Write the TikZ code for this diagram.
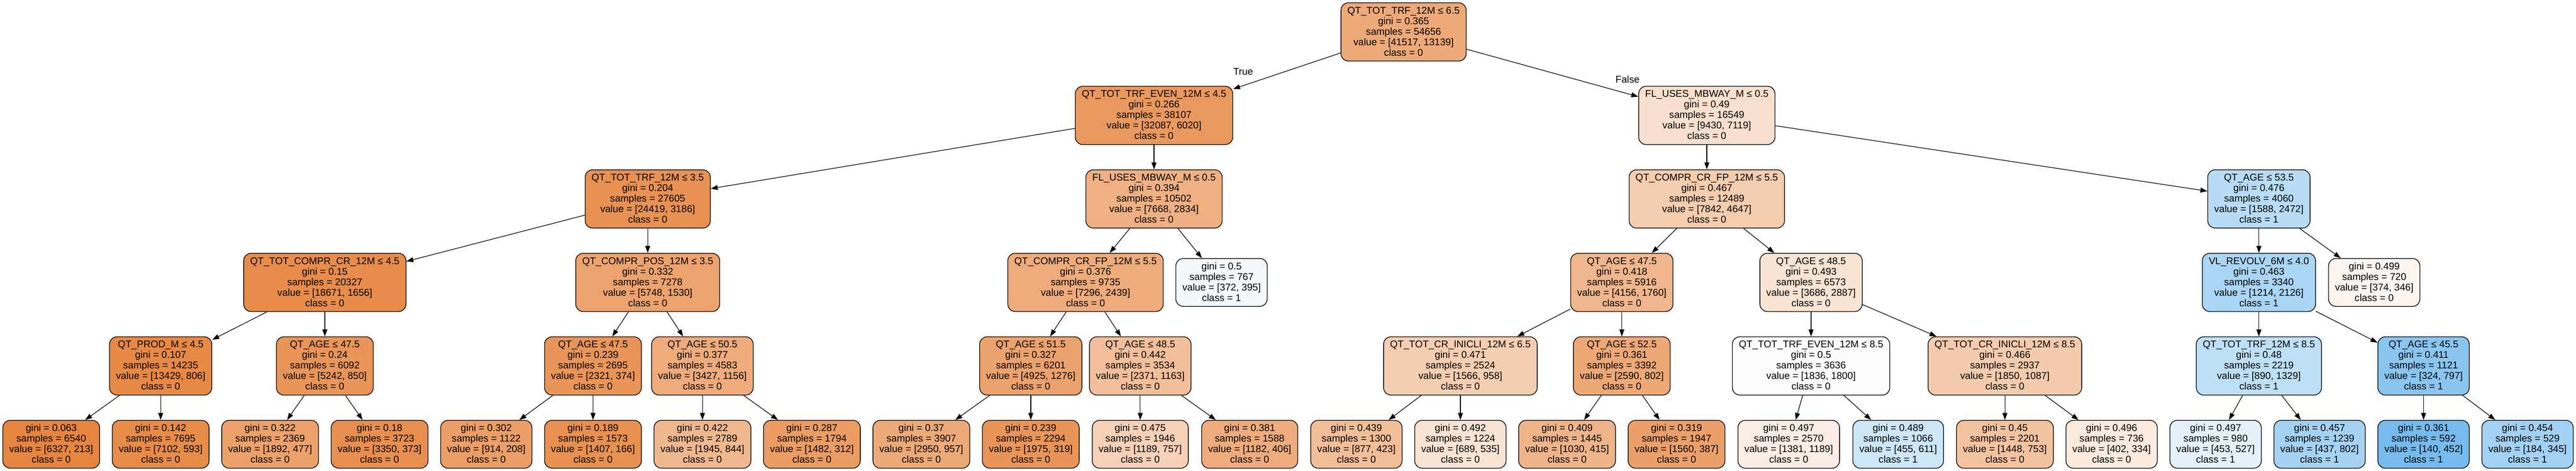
\documentclass[tikz,border=0pt]{standalone}
\usepackage{fontspec}
\setmainfont{Liberation Sans}
\usetikzlibrary{arrows.meta}
\definecolor{cz}{RGB}{229,129,57}
\definecolor{co}{RGB}{57,157,229}
\newcommand\splitlab[5]{#1\\gini = #2\\samples = #3\\value = [#4]\\class = #5\rule[-1.5pt]{0pt}{1.5pt}}
\newcommand\leaflab[4]{gini = #1\\samples = #2\\value = [#3]\\class = #4\rule[-1.5pt]{0pt}{1.5pt}}
\tikzset{
  tn/.style={draw=black, line width=1pt, rounded corners=10.5pt, font=\fontsize{14pt}{15pt}\selectfont,
    align=center, inner xsep=9.22pt, inner ysep=0pt, minimum height=83pt},
  lfn/.style={tn, minimum height=68.25pt},
  lab/.style={font=\fontsize{14pt}{15pt}\selectfont, inner sep=0pt},
  ed/.style={draw=black, line width=0.9pt, -{Triangle[length=10pt,width=7pt]}}
}
\begin{document}
\begin{tikzpicture}
\fill[white] (0,0) rectangle (3669.75pt,-671.25pt);
\useasboundingbox (0,0) rectangle (3669.75pt,-671.25pt);
% rank 0
\node[tn, fill=cz!68.4!white] (n0) at (1999.5pt,-45.5pt) {\splitlab{QT\_TOT\_TRF\_12M ≤ 6.5}{0.365}{54656}{41517, 13139}{0}};
% rank 1
\node[tn, fill=cz!81.2!white] (n1) at (1644pt,-164.5pt) {\splitlab{QT\_TOT\_TRF\_EVEN\_12M ≤ 4.5}{0.266}{38107}{32087, 6020}{0}};
\node[tn, fill=cz!24.5!white] (n2) at (2431.5pt,-164.5pt) {\splitlab{FL\_USES\_MBWAY\_M ≤ 0.5}{0.49}{16549}{9430, 7119}{0}};
% rank 2
\node[tn, fill=cz!87.0!white] (n3) at (922.73pt,-283.5pt) {\splitlab{QT\_TOT\_TRF\_12M ≤ 3.5}{0.204}{27605}{24419, 3186}{0}};
\node[tn, fill=cz!63.0!white] (n4) at (1644pt,-283.5pt) {\splitlab{FL\_USES\_MBWAY\_M ≤ 0.5}{0.394}{10502}{7668, 2834}{0}};
\node[tn, fill=cz!40.7!white] (n5) at (2431.5pt,-283.5pt) {\splitlab{QT\_COMPR\_CR\_FP\_12M ≤ 5.5}{0.467}{12489}{7842, 4647}{0}};
\node[tn, fill=co!35.8!white] (n6) at (3218pt,-283.5pt) {\splitlab{QT\_AGE ≤ 53.5}{0.476}{4060}{1588, 2472}{1}};
% rank 3
\node[tn, fill=cz!91.1!white] (n7) at (462.76pt,-402.5pt) {\splitlab{QT\_TOT\_COMPR\_CR\_12M ≤ 4.5}{0.15}{20327}{18671, 1656}{0}};
\node[tn, fill=cz!73.4!white] (n8) at (922.73pt,-402.5pt) {\splitlab{QT\_COMPR\_POS\_12M ≤ 3.5}{0.332}{7278}{5748, 1530}{0}};
\node[tn, fill=cz!66.6!white] (n9) at (1546.41pt,-402.5pt) {\splitlab{QT\_COMPR\_CR\_FP\_12M ≤ 5.5}{0.376}{9735}{7296, 2439}{0}};
\node[lfn, fill=co!5.8!white] (n10) at (1740.2pt,-402.5pt) {\leaflab{0.5}{767}{372, 395}{1}};
\node[tn, fill=cz!57.7!white] (n11) at (2310.43pt,-402.5pt) {\splitlab{QT\_AGE ≤ 47.5}{0.418}{5916}{4156, 1760}{0}};
\node[tn, fill=cz!21.7!white] (n12) at (2580pt,-402.5pt) {\splitlab{QT\_AGE ≤ 48.5}{0.493}{6573}{3686, 2887}{0}};
\node[tn, fill=co!42.9!white] (n13) at (3218pt,-402.5pt) {\splitlab{VL\_REVOLV\_6M ≤ 4.0}{0.463}{3340}{1214, 2126}{1}};
\node[lfn, fill=cz!7.5!white] (n14) at (3382.3pt,-402.5pt) {\leaflab{0.499}{720}{374, 346}{0}};
% rank 4
\node[tn, fill=cz!94.0!white] (n15) at (228.88pt,-521.5pt) {\splitlab{QT\_PROD\_M ≤ 4.5}{0.107}{14235}{13429, 806}{0}};
\node[tn, fill=cz!83.8!white] (n16) at (462.76pt,-521.5pt) {\splitlab{QT\_AGE ≤ 47.5}{0.24}{6092}{5242, 850}{0}};
\node[tn, fill=cz!83.9!white] (n17) at (844.77pt,-521.5pt) {\splitlab{QT\_AGE ≤ 47.5}{0.239}{2695}{2321, 374}{0}};
\node[tn, fill=cz!66.3!white] (n18) at (1000.69pt,-521.5pt) {\splitlab{QT\_AGE ≤ 50.5}{0.377}{4583}{3427, 1156}{0}};
\node[tn, fill=cz!74.1!white] (n19) at (1468.45pt,-521.5pt) {\splitlab{QT\_AGE ≤ 51.5}{0.327}{6201}{4925, 1276}{0}};
\node[tn, fill=cz!50.9!white] (n20) at (1624.37pt,-521.5pt) {\splitlab{QT\_AGE ≤ 48.5}{0.442}{3534}{2371, 1163}{0}};
\node[tn, fill=cz!38.8!white] (n21) at (2080.45pt,-521.5pt) {\splitlab{QT\_TOT\_CR\_INICLI\_12M ≤ 6.5}{0.471}{2524}{1566, 958}{0}};
\node[tn, fill=cz!69.0!white] (n22) at (2310.43pt,-521.5pt) {\splitlab{QT\_AGE ≤ 52.5}{0.361}{3392}{2590, 802}{0}};
\node[tn, fill=cz!2.0!white] (n23) at (2580pt,-521.5pt) {\splitlab{QT\_TOT\_TRF\_EVEN\_12M ≤ 8.5}{0.5}{3636}{1836, 1800}{0}};
\node[tn, fill=cz!41.2!white] (n24) at (2856.14pt,-521.5pt) {\splitlab{QT\_TOT\_CR\_INICLI\_12M ≤ 8.5}{0.466}{2937}{1850, 1087}{0}};
\node[tn, fill=co!33.0!white] (n25) at (3218pt,-521.5pt) {\splitlab{QT\_TOT\_TRF\_12M ≤ 8.5}{0.48}{2219}{890, 1329}{1}};
\node[tn, fill=co!59.3!white] (n26) at (3452.56pt,-521.5pt) {\splitlab{QT\_AGE ≤ 45.5}{0.411}{1121}{324, 797}{1}};
% rank 5 leaves
\node[lfn, fill=cz!96.6!white] (L1) at (72.96pt,-633.125pt) {\leaflab{0.063}{6540}{6327, 213}{0}};
\node[lfn, fill=cz!91.7!white] (L2) at (228.88pt,-633.125pt) {\leaflab{0.142}{7695}{7102, 593}{0}};
\node[lfn, fill=cz!74.8!white] (L3) at (384.80pt,-633.125pt) {\leaflab{0.322}{2369}{1892, 477}{0}};
\node[lfn, fill=cz!88.9!white] (L4) at (540.72pt,-633.125pt) {\leaflab{0.18}{3723}{3350, 373}{0}};
\node[lfn, fill=cz!77.2!white] (L5) at (692.75pt,-633.125pt) {\leaflab{0.302}{1122}{914, 208}{0}};
\node[lfn, fill=cz!88.2!white] (L6) at (844.77pt,-633.125pt) {\leaflab{0.189}{1573}{1407, 166}{0}};
\node[lfn, fill=cz!56.6!white] (L7) at (1000.69pt,-633.125pt) {\leaflab{0.422}{2789}{1945, 844}{0}};
\node[lfn, fill=cz!78.9!white] (L8) at (1156.61pt,-633.125pt) {\leaflab{0.287}{1794}{1482, 312}{0}};
\node[lfn, fill=cz!67.6!white] (L9) at (1312.53pt,-633.125pt) {\leaflab{0.37}{3907}{2950, 957}{0}};
\node[lfn, fill=cz!83.8!white] (L10) at (1468.45pt,-633.125pt) {\leaflab{0.239}{2294}{1975, 319}{0}};
\node[lfn, fill=cz!36.3!white] (L11) at (1624.37pt,-633.125pt) {\leaflab{0.475}{1946}{1189, 757}{0}};
\node[lfn, fill=cz!65.7!white] (L12) at (1780.29pt,-633.125pt) {\leaflab{0.381}{1588}{1182, 406}{0}};
\node[lfn, fill=cz!51.8!white] (L13) at (1932.32pt,-633.125pt) {\leaflab{0.439}{1300}{877, 423}{0}};
\node[lfn, fill=cz!22.4!white] (L14) at (2080.45pt,-633.125pt) {\leaflab{0.492}{1224}{689, 535}{0}};
\node[lfn, fill=cz!59.7!white] (L15) at (2232.47pt,-633.125pt) {\leaflab{0.409}{1445}{1030, 415}{0}};
\node[lfn, fill=cz!75.2!white] (L16) at (2388.39pt,-633.125pt) {\leaflab{0.319}{1947}{1560, 387}{0}};
\node[lfn, fill=cz!13.9!white] (L17) at (2548.20pt,-633.125pt) {\leaflab{0.497}{2570}{1381, 1189}{0}};
\node[lfn, fill=co!25.5!white] (L18) at (2704.12pt,-633.125pt) {\leaflab{0.489}{1066}{455, 611}{1}};
\node[lfn, fill=cz!48.0!white] (L19) at (2856.14pt,-633.125pt) {\leaflab{0.45}{2201}{1448, 753}{0}};
\node[lfn, fill=cz!16.9!white] (L20) at (3008.17pt,-633.125pt) {\leaflab{0.496}{736}{402, 334}{0}};
\node[lfn, fill=co!14.0!white] (L21) at (3156.30pt,-633.125pt) {\leaflab{0.497}{980}{453, 527}{1}};
\node[lfn, fill=co!45.5!white] (L22) at (3304.43pt,-633.125pt) {\leaflab{0.457}{1239}{437, 802}{1}};
\node[lfn, fill=co!69.0!white] (L23) at (3452.56pt,-633.125pt) {\leaflab{0.361}{592}{140, 452}{1}};
\node[lfn, fill=co!46.7!white] (L24) at (3600.69pt,-633.125pt) {\leaflab{0.454}{529}{184, 345}{1}};
% edges
\draw[ed] (n0) -- (n1);
\draw[ed] (n0) -- (n2);
\draw[ed] (n1) -- (n3);
\draw[ed] (n1) -- (n4);
\draw[ed] (n2) -- (n5);
\draw[ed] (n2) -- (n6);
\draw[ed] (n3) -- (n7);
\draw[ed] (n3) -- (n8);
\draw[ed] (n4) -- (n9);
\draw[ed] (n4) -- (n10);
\draw[ed] (n5) -- (n11);
\draw[ed] (n5) -- (n12);
\draw[ed] (n6) -- (n13);
\draw[ed] (n6) -- (n14);
\draw[ed] (n7) -- (n15);
\draw[ed] (n7) -- (n16);
\draw[ed] (n8) -- (n17);
\draw[ed] (n8) -- (n18);
\draw[ed] (n9) -- (n19);
\draw[ed] (n9) -- (n20);
\draw[ed] (n11) -- (n21);
\draw[ed] (n11) -- (n22);
\draw[ed] (n12) -- (n23);
\draw[ed] (n12) -- (n24);
\draw[ed] (n13) -- (n25);
\draw[ed] (n13) -- (n26);
\draw[ed] (n15) -- (L1);
\draw[ed] (n15) -- (L2);
\draw[ed] (n16) -- (L3);
\draw[ed] (n16) -- (L4);
\draw[ed] (n17) -- (L5);
\draw[ed] (n17) -- (L6);
\draw[ed] (n18) -- (L7);
\draw[ed] (n18) -- (L8);
\draw[ed] (n19) -- (L9);
\draw[ed] (n19) -- (L10);
\draw[ed] (n20) -- (L11);
\draw[ed] (n20) -- (L12);
\draw[ed] (n21) -- (L13);
\draw[ed] (n21) -- (L14);
\draw[ed] (n22) -- (L15);
\draw[ed] (n22) -- (L16);
\draw[ed] (n23) -- (L17);
\draw[ed] (n23) -- (L18);
\draw[ed] (n24) -- (L19);
\draw[ed] (n24) -- (L20);
\draw[ed] (n25) -- (L21);
\draw[ed] (n25) -- (L22);
\draw[ed] (n26) -- (L23);
\draw[ed] (n26) -- (L24);
% edge labels
\node[lab, anchor=base] (lt) at (1771pt,-107.25pt) {True};
\node[lab, anchor=base] (lf) at (2318.6pt,-118.5pt) {False};
\end{tikzpicture}
\end{document}
